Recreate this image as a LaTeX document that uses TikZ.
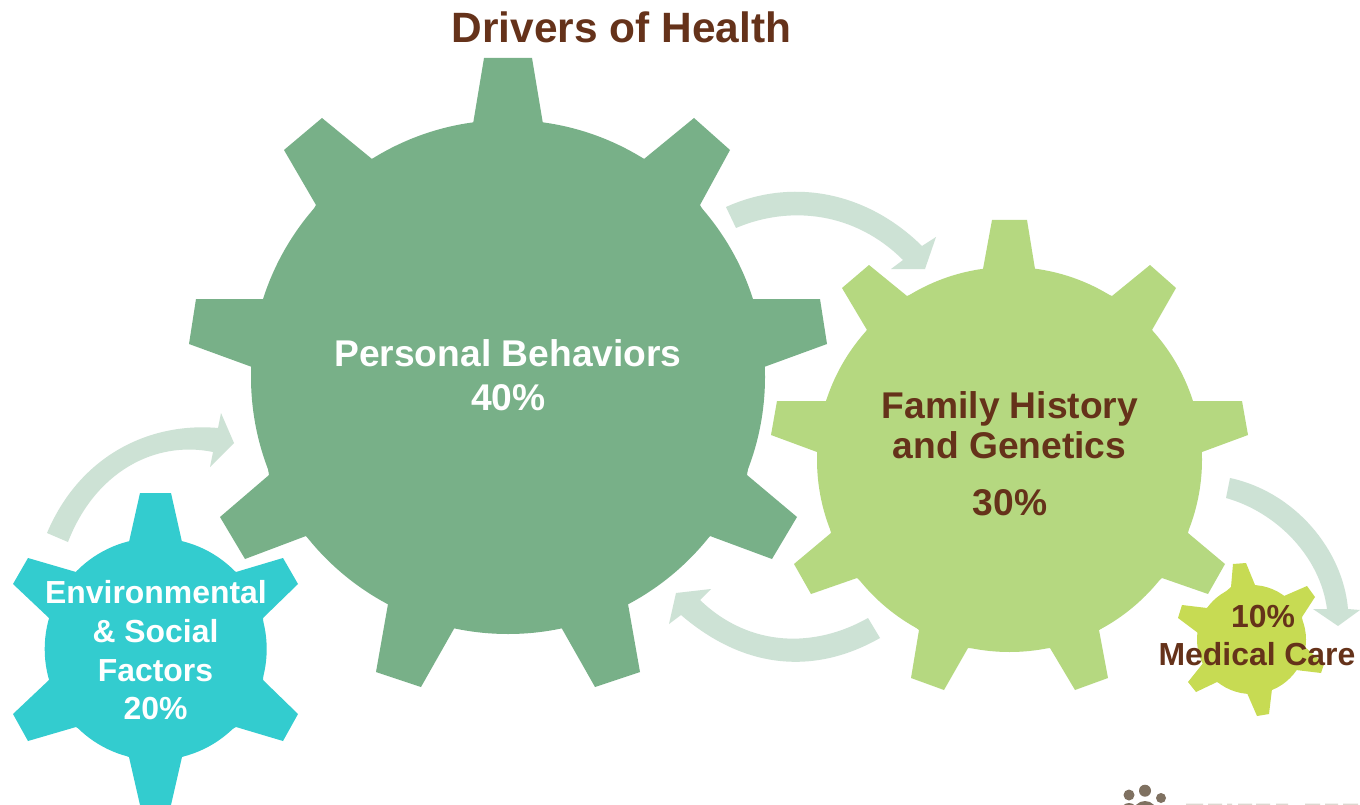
\documentclass[tikz,border=0pt]{standalone}
\usepackage{fontspec}
\setmainfont{Liberation Sans}
\definecolor{gearbig}{HTML}{78B088}
\definecolor{gearfam}{HTML}{B5D880}
\definecolor{gearenv}{HTML}{33CCCF}
\definecolor{gearmed}{HTML}{C7DB53}
\definecolor{flow}{HTML}{CDE2D5}
\definecolor{brownink}{HTML}{65321A}
\definecolor{logoink}{HTML}{7F7161}
\definecolor{logofade}{HTML}{DDD7CF}
\tikzset{
  gearbody/.style={fill=#1,draw=none},
  flowarrow/.style={fill=flow,draw=none},
  label/.style={anchor=base,inner sep=0pt,font=\bfseries\fontsize{#1}{#1}\selectfont},
  onlight/.style={text=brownink},
  ondark/.style={text=white},
}
\begin{document}
\begin{tikzpicture}[x=1pt,y=-1pt]
\clip (0,0) rectangle (1360,805);
\fill[white] (0,0) rectangle (1360,805);
% flow arrows
\fill[flowarrow] (726,207) .. controls (790,178) and (865,190) .. (922,246) -- (936,237) -- (925,269) -- (891,269) -- (903,260) .. controls (855,212) and (790,205) .. (736,228) -- cycle;
\fill[flowarrow] (1230,478) .. controls (1295,492) and (1343,550) .. (1348,609) -- (1360,610) -- (1338,626) -- (1313,609) -- (1327,609) .. controls (1320,556) and (1276,512) .. (1226,498) -- cycle;
\fill[flowarrow] (868,618) .. controls (815,648) and (750,648) .. (700,600) -- (711,589) -- (676,593) -- (669,624) -- (681,615) .. controls (745,670) and (815,675) .. (880,638) -- cycle;
\fill[flowarrow] (47,533) .. controls (80,455) and (150,422) .. (218,428) -- (221,413) -- (234,443) -- (210,467) -- (213,452) .. controls (155,440) and (95,472) .. (68,542) -- cycle;
% Personal Behaviors gear
\fill[gearbody=gearbig] (508,377) circle[radius=257];
\fill[gearbody=gearbig]
  (473,124) -- (484,58) -- (532,58) -- (543,124) --
  (644,159) -- (694,118) -- (730,150) -- (700,205) --
  (752,299) -- (820,299) -- (827,344) -- (764,367) --
  (747,475) -- (797,517) -- (772,559) -- (710,536) --
  (628,604) -- (640,672) -- (595,687) -- (561,627) --
  (455,627) -- (421,687) -- (376,672) -- (388,604) --
  (306,536) -- (245,559) -- (220,517) -- (269,475) --
  (252,367) -- (189,344) -- (196,299) -- (264,299) --
  (316,205) -- (284,150) -- (322,118) -- (372,159) -- cycle;
% Family gear
\fill[gearbody=gearfam] (1009.5,459.5) circle[radius=192.5];
\fill[gearbody=gearfam]
  (983,269) -- (992,220) -- (1027,220) -- (1035,269) --
  (1112,296) -- (1150,265) -- (1176,288) -- (1152,330) --
  (1192,401) -- (1242,401) -- (1248,435) -- (1202,452) --
  (1188,533) -- (1225,564) -- (1208,594) -- (1162,578) --
  (1099,630) -- (1108,678) -- (1075,690) -- (1050,648) --
  (968,648) -- (944,690) -- (911,678) -- (919,630) --
  (857,578) -- (811,594) -- (794,564) -- (831,533) --
  (817,452) -- (771,435) -- (777,401) -- (826,401) --
  (867,330) -- (842,288) -- (869,265) -- (907,296) -- cycle;
% Environmental gear
\fill[gearbody=gearenv] (155.7,649) circle[radius=111];
\fill[gearbody=gearenv]
  (129,542) -- (140,493) -- (171,493) -- (182,542) --
  (236,572) -- (283,558) -- (298,584) -- (263,618) --
  (263,680) -- (298,714) -- (283,741) -- (236,727) --
  (182,757) -- (171,805) -- (140,805) -- (129,757) --
  (76,727) -- (28,741) -- (13,714) -- (49,680) --
  (49,618) -- (13,584) -- (28,558) -- (76,572) -- cycle;
% Medical gear
\fill[gearbody=gearmed] (1251.5,639.5) circle[radius=54.5];
\fill[gearbody=gearmed]
  (1231,587) -- (1233,564) -- (1246,563) -- (1255,585) --
  (1284,596) -- (1307,586) -- (1315,597) -- (1302,617) --
  (1305,647) -- (1324,664) -- (1321,673) -- (1296,670) --
  (1272,689) -- (1269,714) -- (1257,716) -- (1247,693) --
  (1217,682) -- (1196,692) -- (1188,682) -- (1204,662) --
  (1198,633) -- (1178,618) -- (1182,605) -- (1207,608) -- cycle;
% texts
\node[label=42.4,onlight] (title) at (621.5,43) {Drivers of Health};
\node[label=37.2,ondark] (pb1) at (508,366) {Personal Behaviors};
\node[label=37.2,ondark] (pb2) at (508.5,410) {40\%};
\node[label=37.2,onlight] (fh1) at (1010,418) {Family History};
\node[label=37.2,onlight] (fh2) at (1009.5,458) {and Genetics};
\node[label=37.2,onlight] (fh3) at (1010,515) {30\%};
\node[label=31.9,ondark] (en1) at (156,603) {Environmental};
\node[label=31.9,ondark] (en2) at (155.5,642) {\& Social};
\node[label=31.9,ondark] (en3) at (155.5,681) {Factors};
\node[label=31.9,ondark] (en4) at (155.5,719) {20\%};
\node[label=31.9,onlight] (mc1) at (1263,627) {10\%};
\node[label=31.9,onlight] (mc2) at (1257,665) {Medical Care};
% logo fragment
\fill[logoink] (1129,795) circle[radius=5.5] (1145,790.7) circle[radius=6] (1161,798) circle[radius=5];
\fill[logoink] (1129,811) circle[radius=8] (1145,813) circle[radius=12];
\fill[logofade] (1161,812) circle[radius=7];
\fill[logofade] (1186,803.5) rectangle (1203,805) (1208,803.5) rectangle (1222,805) (1227,803.5) rectangle (1232,805) (1238,803.5) rectangle (1252,805) (1256,803.5) rectangle (1270,805) (1276,803.5) rectangle (1288,805) (1305,803.5) rectangle (1320,805) (1325,803.5) rectangle (1338,805) (1343,803.5) rectangle (1358,805);
\end{tikzpicture}
\end{document}
